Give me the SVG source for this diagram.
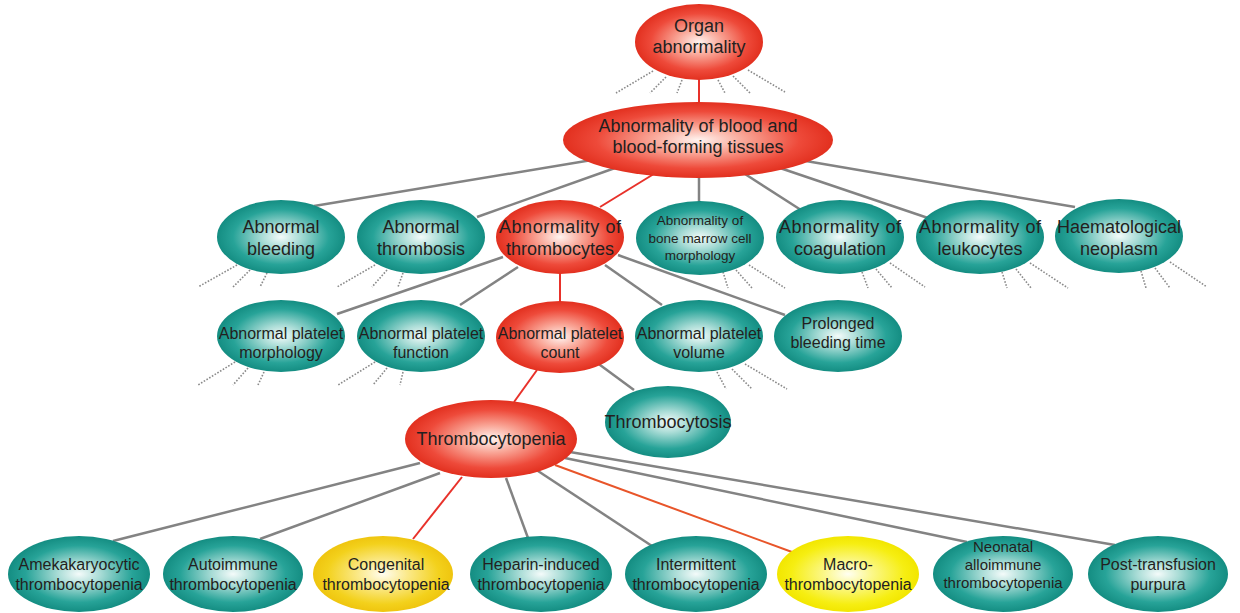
<svg xmlns="http://www.w3.org/2000/svg" width="1240" height="613" viewBox="0 0 1240 613">
<defs>
<radialGradient id="gRed" cx="50%" cy="50%" r="50%">
<stop offset="0" stop-color="#fff4f0"/>
<stop offset="0.35" stop-color="#f9a596"/>
<stop offset="0.75" stop-color="#ee4a3a"/>
<stop offset="1" stop-color="#e2301f"/>
</radialGradient>
<radialGradient id="gTeal" cx="50%" cy="50%" r="50%">
<stop offset="0" stop-color="#f4fbfa"/>
<stop offset="0.3" stop-color="#a9dcd6"/>
<stop offset="0.75" stop-color="#27a398"/>
<stop offset="1" stop-color="#148d82"/>
</radialGradient>
<radialGradient id="gGold" cx="50%" cy="50%" r="50%">
<stop offset="0" stop-color="#fffdf0"/>
<stop offset="0.35" stop-color="#fbe98a"/>
<stop offset="0.8" stop-color="#f3d11c"/>
<stop offset="1" stop-color="#efc50f"/>
</radialGradient>
<radialGradient id="gYellow" cx="50%" cy="50%" r="50%">
<stop offset="0" stop-color="#fffff2"/>
<stop offset="0.35" stop-color="#fbf786"/>
<stop offset="0.8" stop-color="#f6ee12"/>
<stop offset="1" stop-color="#f2e600"/>
</radialGradient>
</defs>
<style>
.red{fill:url(#gRed)}
.teal{fill:url(#gTeal)}
.gold{fill:url(#gGold)}
.yel{fill:url(#gYellow)}
text{font-family:"Liberation Sans",Arial,sans-serif;fill:#231f20;text-anchor:middle}
.t18{font-size:18px}
.t16{font-size:16px}
.t15{font-size:15px}
.t13{font-size:13.5px}
.gl{stroke:#838383;stroke-width:2.5;fill:none}
.rl{stroke:#e8312a;stroke-width:2;fill:none}
.ol{stroke:#e8552a;stroke-width:2;fill:none}
.dl{stroke:#8a8a8a;stroke-width:1.6;stroke-dasharray:1.6 1.6;fill:none}
</style>
<rect width="1240" height="613" fill="#ffffff"/>
<g id="connectors">
<line class="rl" x1="699" y1="79" x2="699" y2="104"/>
<line class="gl" x1="592" y1="160" x2="314" y2="206"/>
<line class="gl" x1="615" y1="168" x2="477" y2="217"/>
<line class="rl" x1="657" y1="172" x2="600" y2="207"/>
<line class="gl" x1="699" y1="177" x2="699" y2="203"/>
<line class="gl" x1="745" y1="174" x2="801" y2="210"/>
<line class="gl" x1="780" y1="168" x2="928" y2="218"/>
<line class="gl" x1="800" y1="160" x2="1075" y2="207"/>
<line class="gl" x1="503" y1="257" x2="337" y2="314"/>
<line class="gl" x1="518" y1="267" x2="460" y2="305"/>
<line class="rl" x1="560" y1="273" x2="560" y2="301"/>
<line class="gl" x1="605" y1="265" x2="662" y2="305"/>
<line class="gl" x1="618" y1="255" x2="785" y2="315"/>
<line class="rl" x1="537" y1="370" x2="514" y2="402"/>
<line class="gl" x1="596" y1="362" x2="634" y2="390"/>
<line class="gl" x1="420" y1="463" x2="113" y2="541"/>
<line class="gl" x1="440" y1="473" x2="260" y2="539"/>
<line class="rl" x1="462" y1="477" x2="413" y2="539"/>
<line class="gl" x1="506" y1="478" x2="528" y2="538"/>
<line class="gl" x1="538" y1="471" x2="652" y2="546"/>
<line class="ol" x1="555" y1="465" x2="792" y2="552"/>
<line class="gl" x1="565" y1="458" x2="967" y2="542"/>
<line class="gl" x1="570" y1="452" x2="1115" y2="545"/>
</g>
<g id="stubs">
<line class="dl" x1="653" y1="71" x2="616" y2="93"/>
<line class="dl" x1="666" y1="77" x2="650" y2="93"/>
<line class="dl" x1="682" y1="80" x2="677" y2="93"/>
<line class="dl" x1="718" y1="80" x2="725" y2="93"/>
<line class="dl" x1="733" y1="76" x2="750" y2="93"/>
<line class="dl" x1="748" y1="70" x2="785" y2="92"/>
<line class="dl" x1="237" y1="265" x2="198" y2="287"/>
<line class="dl" x1="250" y1="270" x2="233" y2="287"/>
<line class="dl" x1="267" y1="273" x2="260" y2="287"/>
<line class="dl" x1="375" y1="265" x2="337" y2="287"/>
<line class="dl" x1="387" y1="270" x2="372" y2="287"/>
<line class="dl" x1="403" y1="273" x2="398" y2="287"/>
<line class="dl" x1="723" y1="272" x2="728" y2="288"/>
<line class="dl" x1="736" y1="270" x2="752" y2="288"/>
<line class="dl" x1="749" y1="265" x2="785" y2="288"/>
<line class="dl" x1="862" y1="272" x2="868" y2="288"/>
<line class="dl" x1="876" y1="269" x2="892" y2="288"/>
<line class="dl" x1="890" y1="263" x2="925" y2="287"/>
<line class="dl" x1="1002" y1="272" x2="1007" y2="288"/>
<line class="dl" x1="1016" y1="269" x2="1031" y2="288"/>
<line class="dl" x1="1030" y1="263" x2="1068" y2="288"/>
<line class="dl" x1="1141" y1="271" x2="1146" y2="288"/>
<line class="dl" x1="1155" y1="268" x2="1170" y2="288"/>
<line class="dl" x1="1170" y1="262" x2="1207" y2="287"/>
<line class="dl" x1="235" y1="362" x2="198" y2="385"/>
<line class="dl" x1="248" y1="368" x2="233" y2="385"/>
<line class="dl" x1="264" y1="372" x2="258" y2="385"/>
<line class="dl" x1="375" y1="362" x2="338" y2="385"/>
<line class="dl" x1="387" y1="368" x2="373" y2="385"/>
<line class="dl" x1="403" y1="372" x2="400" y2="385"/>
<line class="dl" x1="717" y1="372" x2="726" y2="389"/>
<line class="dl" x1="732" y1="369" x2="752" y2="389"/>
<line class="dl" x1="745" y1="364" x2="787" y2="389"/>
</g>
<g id="n-organ"><ellipse class="red" cx="699" cy="42" rx="64" ry="38"/><text class="t18" x="699" y="32">Organ</text><text class="t18" x="699" y="53">abnormality</text></g>
<g id="n-blood"><ellipse class="red" cx="698" cy="140" rx="135" ry="38"/><text class="t18" x="698" y="132">Abnormality of blood and</text><text class="t18" x="698" y="153">blood-forming tissues</text></g>
<g id="n-bleeding"><ellipse class="teal" cx="281" cy="237" rx="64" ry="37"/><text class="t18" x="281" y="233">Abnormal</text><text class="t18" x="281" y="255">bleeding</text></g>
<g id="n-thrombosis"><ellipse class="teal" cx="421" cy="237" rx="64" ry="37"/><text class="t18" x="421" y="233">Abnormal</text><text class="t18" x="421" y="255">thrombosis</text></g>
<g id="n-thrombocytes"><ellipse class="red" cx="560" cy="237" rx="64" ry="37"/><text class="t18" x="560" y="233" textLength="122">Abnormality of</text><text class="t18" x="560" y="255">thrombocytes</text></g>
<g id="n-bonemarrow"><ellipse class="teal" cx="700" cy="238" rx="64" ry="37"/><text class="t13" x="700" y="225">Abnormality of</text><text class="t13" x="700" y="243">bone marrow cell</text><text class="t13" x="700" y="260">morphology</text></g>
<g id="n-coagulation"><ellipse class="teal" cx="840" cy="237" rx="64" ry="37"/><text class="t18" x="840" y="233" textLength="122">Abnormality of</text><text class="t18" x="840" y="255">coagulation</text></g>
<g id="n-leukocytes"><ellipse class="teal" cx="980" cy="237" rx="64" ry="37"/><text class="t18" x="980" y="233" textLength="122">Abnormality of</text><text class="t18" x="980" y="255">leukocytes</text></g>
<g id="n-haem"><ellipse class="teal" cx="1119" cy="236" rx="64" ry="37"/><text class="t18" x="1119" y="233">Haematological</text><text class="t18" x="1119" y="255">neoplasm</text></g>
<g id="n-morph"><ellipse class="teal" cx="281" cy="336" rx="64" ry="36"/><text class="t16" x="281" y="339">Abnormal platelet</text><text class="t16" x="281" y="358">morphology</text></g>
<g id="n-function"><ellipse class="teal" cx="421" cy="336" rx="64" ry="36"/><text class="t16" x="421" y="339">Abnormal platelet</text><text class="t16" x="421" y="358">function</text></g>
<g id="n-count"><ellipse class="red" cx="560" cy="337" rx="64" ry="36"/><text class="t16" x="560" y="339">Abnormal platelet</text><text class="t16" x="560" y="358">count</text></g>
<g id="n-volume"><ellipse class="teal" cx="699" cy="336" rx="64" ry="36"/><text class="t16" x="699" y="339">Abnormal platelet</text><text class="t16" x="699" y="358">volume</text></g>
<g id="n-prolonged"><ellipse class="teal" cx="838" cy="336" rx="64" ry="36"/><text class="t16" x="838" y="329">Prolonged</text><text class="t16" x="838" y="348">bleeding time</text></g>
<g id="n-thrombocytosis"><ellipse class="teal" cx="668" cy="422" rx="63" ry="36"/><text class="t18" x="668" y="428">Thrombocytosis</text></g>
<g id="n-thrombocytopenia"><ellipse class="red" cx="491" cy="439" rx="86" ry="39"/><text class="t18" x="491" y="445">Thrombocytopenia</text></g>
<g id="n-amek"><ellipse class="teal" cx="79" cy="574" rx="71" ry="38"/><text class="t16" x="79" y="570">Amekakaryocytic</text><text class="t16" x="79" y="590">thrombocytopenia</text></g>
<g id="n-autoimmune"><ellipse class="teal" cx="233" cy="574" rx="70" ry="38"/><text class="t16" x="233" y="570">Autoimmune</text><text class="t16" x="233" y="590">thrombocytopenia</text></g>
<g id="n-congenital"><ellipse class="gold" cx="383" cy="574" rx="70" ry="38"/><text class="t16" x="386" y="570">Congenital</text><text class="t16" x="386" y="590">thrombocytopenia</text></g>
<g id="n-heparin"><ellipse class="teal" cx="541" cy="574" rx="71" ry="38"/><text class="t16" x="541" y="570">Heparin-induced</text><text class="t16" x="541" y="590">thrombocytopenia</text></g>
<g id="n-intermittent"><ellipse class="teal" cx="696" cy="574" rx="71" ry="38"/><text class="t16" x="696" y="570">Intermittent</text><text class="t16" x="696" y="590">thrombocytopenia</text></g>
<g id="n-macro"><ellipse class="yel" cx="848" cy="574" rx="71" ry="38"/><text class="t16" x="848" y="570">Macro-</text><text class="t16" x="848" y="590">thrombocytopenia</text></g>
<g id="n-neonatal"><ellipse class="teal" cx="1003" cy="574" rx="70" ry="38"/><text class="t15" x="1003" y="552">Neonatal</text><text class="t15" x="1003" y="570">alloimmune</text><text class="t15" x="1003" y="588">thrombocytopenia</text></g>
<g id="n-posttransfusion"><ellipse class="teal" cx="1158" cy="574" rx="70" ry="38"/><text class="t16" x="1158" y="570">Post-transfusion</text><text class="t16" x="1158" y="590">purpura</text></g>
</svg>
